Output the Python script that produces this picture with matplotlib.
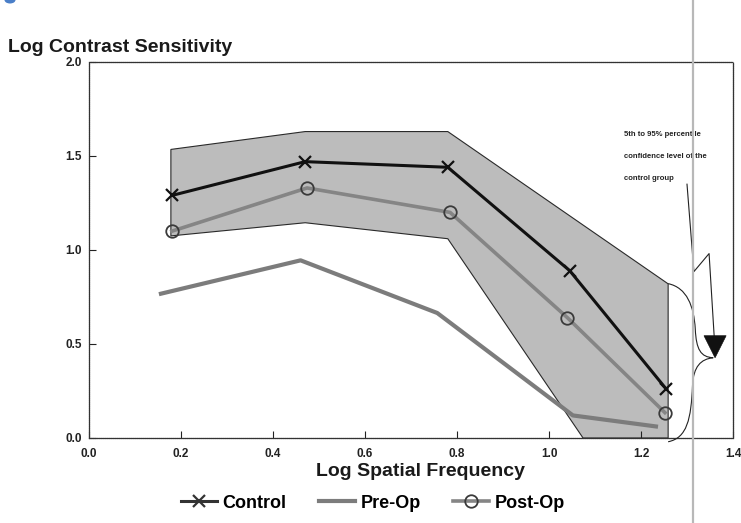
import matplotlib.pyplot as plt
from matplotlib.path import Path
from matplotlib.patches import PathPatch, Polygon, Ellipse
from matplotlib.lines import Line2D

plt.rcParams['font.family'] = ['Liberation Sans', 'DejaVu Sans']
plt.rcParams['font.weight'] = 'bold'

# spatial frequency (log) for each group
control_x = [0.18, 0.47, 0.78, 1.045, 1.255]
control_y = [1.29, 1.47, 1.44, 0.89, 0.26]

postop_x = [0.18, 0.474, 0.785, 1.04, 1.252]
postop_y = [1.10, 1.33, 1.20, 0.64, 0.135]

preop_x = [0.152, 0.46, 0.757, 1.052, 1.237]
preop_y = [0.765, 0.945, 0.665, 0.12, 0.06]

# 5th-95th percentile band of the control group
band_upper_x = [0.178, 0.47, 0.78, 1.259]
band_upper_y = [1.535, 1.63, 1.63, 0.82]
band_lower_x = [0.178, 0.47, 0.78, 1.074, 1.259]
band_lower_y = [1.075, 1.145, 1.06, 0.0, 0.0]

xticks = [0.0, 0.2, 0.4, 0.6, 0.8, 1.0, 1.2, 1.4]
yticks = [0.0, 0.5, 1.0, 1.5, 2.0]

note_lines = ['5th to 95% percentile', 'confidence level of the', 'control group']

fig = plt.figure(figsize=(7.41, 5.23), dpi=100)
ax = fig.add_axes([89 / 741, 1 - 438 / 523, 644 / 741, 376 / 523])

band_pts = list(zip(band_upper_x, band_upper_y)) + list(zip(band_lower_x, band_lower_y))[::-1]
ax.add_patch(Polygon(band_pts, closed=True, facecolor='#bcbcbc', edgecolor='#2a2a2a',
                     lw=0.8, zorder=1))

ax.plot(preop_x, preop_y, color='#7c7c7c', lw=3.0, solid_capstyle='butt', zorder=2)
ax.plot(postop_x, postop_y, color='#858585', lw=2.6, marker='o', ms=9,
        mfc='none', mec='#3a3a3a', mew=1.3, zorder=3)
ax.plot(control_x, control_y, color='#111111', lw=2.2, marker='x', ms=9,
        mec='#111111', mew=1.6, zorder=4)

# bracket around the band edge at the right
verts = [(1.259, 0.821),
         (1.300, 0.80), (1.315, 0.70), (1.318, 0.58),
         (1.320, 0.47), (1.330, 0.43), (1.357, 0.427),
         (1.330, 0.42), (1.314, 0.38), (1.312, 0.28),
         (1.309, 0.10), (1.300, 0.0), (1.259, -0.02)]
codes = [Path.MOVETO] + [Path.CURVE4] * 12
ax.add_patch(PathPatch(Path(verts, codes), fill=False, lw=0.8, edgecolor='#222222',
                       clip_on=False, zorder=5))

# zigzag pointer from the note down to the bracket
ax.plot([1.300, 1.315, 1.348, 1.359], [1.35, 0.885, 0.981, 0.544],
        color='#222222', lw=0.8, zorder=5)
ax.add_patch(Polygon([(1.337, 0.544), (1.385, 0.544), (1.361, 0.427)], closed=True,
                     facecolor='#111111', edgecolor='#111111', lw=0.5, zorder=5))

for i, line in enumerate(note_lines):
    ax.text(1.163, 1.615 - i * 0.118, line, fontsize=5.5, color='#222222',
            ha='left', va='center', zorder=5)

ax.set_xlim(0, 1.4)
ax.set_ylim(0, 2.0)
ax.set_xticks(xticks)
ax.set_yticks(yticks)
ax.set_xticklabels([f'{t:.1f}' for t in xticks], fontsize=8.5)
ax.set_yticklabels([f'{t:.1f}' for t in yticks], fontsize=8.5)
ax.tick_params(axis='x', direction='in', length=5, width=0.8, pad=7, colors='#222222')
ax.tick_params(axis='y', direction='in', length=5, width=0.8, pad=5, colors='#222222')
for s in ax.spines.values():
    s.set_linewidth(0.9)
    s.set_color('#333333')
    s.set_linestyle((0, (1, 0.6)))

fig.text(8 / 741, 1 - 47 / 523, 'Log Contrast Sensitivity', fontsize=14,
         fontweight='bold', ha='left', va='center', color='#1a1a1a')
fig.text(421 / 741, 1 - 472 / 523, 'Log Spatial Frequency', fontsize=14,
         fontweight='bold', ha='center', va='center', color='#1a1a1a')

handles = [Line2D([], [], color='#333333', lw=2.2, marker='x', ms=9, mew=1.6),
           Line2D([], [], color='#7c7c7c', lw=3.0),
           Line2D([], [], color='#858585', lw=2.6, marker='o', ms=9, mfc='none',
                  mec='#3a3a3a', mew=1.3)]
fig.legend(handles, ['Control', 'Pre-Op', 'Post-Op'], loc='center',
           bbox_to_anchor=(373 / 741, 1 - 503 / 523), ncol=3, frameon=False,
           handlelength=2.0, handletextpad=0.3, columnspacing=1.8,
           prop={'weight': 'bold', 'size': 13})

# scanner streak and the blue blob left at the top edge
fig.add_artist(Line2D([693 / 741, 693 / 741], [0, 1], transform=fig.transFigure,
                      color='#b8b8b8', lw=1.6, zorder=10))
fig.add_artist(Ellipse((10 / 741, 1.0), 11 / 741, 7 / 523, transform=fig.transFigure,
                       facecolor='#4a7fc8', edgecolor='none'))

fig.savefig('out.png', dpi=100)
